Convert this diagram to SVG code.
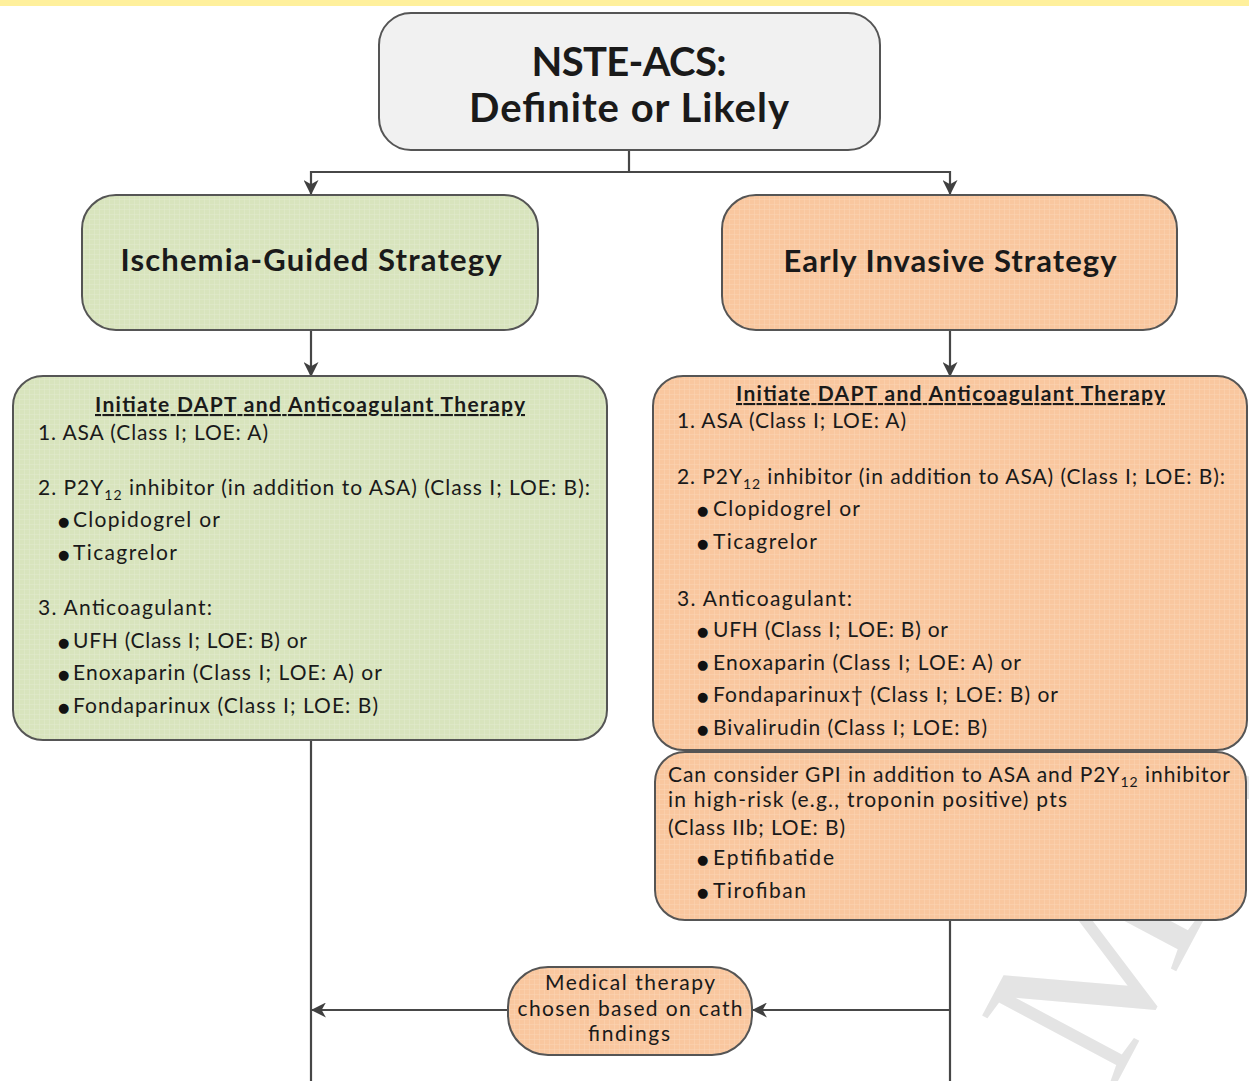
<svg xmlns="http://www.w3.org/2000/svg" width="1249" height="1081" viewBox="0 0 1249 1081">
<style>
.box{stroke:#555;stroke-width:2}
.t{font-family:Lato,"Liberation Sans",sans-serif;font-size:21px;fill:#1a1a1a}
.b{font-weight:bold}
.u{text-decoration:underline}
.c{text-anchor:middle}
.big{font-size:40px}
.mid{font-size:31px}
.bl{font-family:"DejaVu Sans",sans-serif;font-size:13px;fill:#111}
.ln{fill:none;stroke:#474747;stroke-width:2.2}
</style>
<defs>
<pattern id="gG" width="5" height="5" patternUnits="userSpaceOnUse"><rect width="5" height="5" fill="#d8e4bd"/><path d="M5 0V5M0 5H5" stroke="#e2ebcf" stroke-width="1"/></pattern>
<pattern id="gO" width="5" height="5" patternUnits="userSpaceOnUse"><rect width="5" height="5" fill="#f9c79f"/><path d="M5 0V5M0 5H5" stroke="#fbd5b6" stroke-width="1"/></pattern>
<marker id="arr" viewBox="0 0 14 14" refX="13" refY="7" markerWidth="15" markerHeight="15" orient="auto" markerUnits="userSpaceOnUse"><path d="M0,0 L14,7 L0,14 L4,7 Z" fill="#404040"/></marker>
</defs>
<rect width="1249" height="1081" fill="#fff"/>
<rect x="0" y="0" width="1249" height="6" fill="#fff09c"/>
<text transform="translate(1112,1092) rotate(-62)" font-family="Liberation Serif,serif" font-size="230" fill="#e4e4e4">MA</text>

<g id="connectors">
<path class="ln" d="M629,150 V172"/>
<path class="ln" d="M629,172 H311 V194" marker-end="url(#arr)"/>
<path class="ln" d="M629,172 H950 V194" marker-end="url(#arr)"/>
<path class="ln" d="M311,330 V376" marker-end="url(#arr)"/>
<path class="ln" d="M950,330 V376" marker-end="url(#arr)"/>
<path class="ln" d="M311,740 V1081"/>
<path class="ln" d="M950,920 V1081"/>
<path class="ln" d="M950,1010 H753" marker-end="url(#arr)"/>
<path class="ln" d="M508,1010 H312" marker-end="url(#arr)"/>
</g>

<g id="node-nste">
<rect class="box" x="379" y="13" width="501" height="137" rx="32" fill="#f1f1f1"/>
<text class="t b c big" x="629" y="76" textLength="195">NSTE-ACS:</text>
<text class="t b c big" x="629" y="122" textLength="320">Definite or Likely</text>
</g>

<g id="node-ischemia">
<rect class="box" x="82" y="195" width="456" height="135" rx="34" fill="url(#gG)"/>
<text class="t b c mid" x="311" y="271" textLength="381">Ischemia-Guided Strategy</text>
</g>

<g id="node-invasive">
<rect class="box" x="722" y="195" width="455" height="135" rx="34" fill="url(#gO)"/>
<text class="t b c mid" x="950" y="272" textLength="333">Early Invasive Strategy</text>
</g>

<g id="node-left-therapy">
<rect class="box" x="13" y="376" width="594" height="364" rx="30" fill="url(#gG)"/>
<text class="t b u" x="95" y="412" textLength="430">Initiate DAPT and Anticoagulant Therapy</text>
<text class="t" x="38" y="440" textLength="230">1. ASA (Class I; LOE: A)</text>
<text class="t" x="38" y="495" textLength="552">2. P2Y<tspan font-size="14" dy="5">12</tspan><tspan dy="-5"> inhibitor (in addition to ASA) (Class I; LOE: B):</tspan></text>
<text class="bl" x="58" y="526">●</text><text class="t" x="73" y="527" textLength="147">Clopidogrel or</text>
<text class="bl" x="58" y="559">●</text><text class="t" x="73" y="560" textLength="104">Ticagrelor</text>
<text class="t" x="38" y="615" textLength="174">3. Anticoagulant:</text>
<text class="bl" x="58" y="647">●</text><text class="t" x="73" y="648" textLength="234">UFH (Class I; LOE: B) or</text>
<text class="bl" x="58" y="679">●</text><text class="t" x="73" y="680" textLength="309">Enoxaparin (Class I; LOE: A) or</text>
<text class="bl" x="58" y="712">●</text><text class="t" x="73" y="713" textLength="305">Fondaparinux (Class I; LOE: B)</text>
</g>

<g id="node-right-therapy">
<rect class="box" x="653" y="376" width="594" height="374" rx="30" fill="url(#gO)"/>
<text class="t b u" x="736" y="401" textLength="429">Initiate DAPT and Anticoagulant Therapy</text>
<text class="t" x="677" y="428" textLength="229">1. ASA (Class I; LOE: A)</text>
<text class="t" x="677" y="484" textLength="548">2. P2Y<tspan font-size="14" dy="5">12</tspan><tspan dy="-5"> inhibitor (in addition to ASA) (Class I; LOE: B):</tspan></text>
<text class="bl" x="697" y="515">●</text><text class="t" x="713" y="516" textLength="147">Clopidogrel or</text>
<text class="bl" x="697" y="548">●</text><text class="t" x="713" y="549" textLength="104">Ticagrelor</text>
<text class="t" x="677" y="606" textLength="175">3. Anticoagulant:</text>
<text class="bl" x="697" y="636">●</text><text class="t" x="713" y="637" textLength="235">UFH (Class I; LOE: B) or</text>
<text class="bl" x="697" y="669">●</text><text class="t" x="713" y="670" textLength="308">Enoxaparin (Class I; LOE: A) or</text>
<text class="bl" x="697" y="701">●</text><text class="t" x="713" y="702" textLength="345">Fondaparinux† (Class I; LOE: B) or</text>
<text class="bl" x="697" y="734">●</text><text class="t" x="713" y="735" textLength="274">Bivalirudin (Class I; LOE: B)</text>
</g>

<g id="node-gpi">
<rect class="box" x="655" y="752" width="591" height="168" rx="30" fill="url(#gO)"/>
<text class="t" x="668" y="782" textLength="562">Can consider GPI in addition to ASA and P2Y<tspan font-size="14" dy="5">12</tspan><tspan dy="-5"> inhibitor</tspan></text>
<text class="t" x="668" y="807" textLength="399">in high-risk (e.g., troponin positive) pts</text>
<text class="t" x="668" y="835" textLength="177">(Class IIb; LOE: B)</text>
<text class="bl" x="697" y="864">●</text><text class="t" x="713" y="865" textLength="121">Eptifibatide</text>
<text class="bl" x="697" y="897">●</text><text class="t" x="713" y="898" textLength="93">Tirofiban</text>
</g>

<g id="node-medical">
<rect class="box" x="508" y="967" width="244" height="88" rx="40" fill="url(#gO)"/>
<text class="t c" x="630" y="990" textLength="170">Medical therapy</text>
<text class="t c" x="630" y="1016" textLength="225">chosen based on cath</text>
<text class="t c" x="629" y="1041" textLength="82">findings</text>
</g>
</svg>
